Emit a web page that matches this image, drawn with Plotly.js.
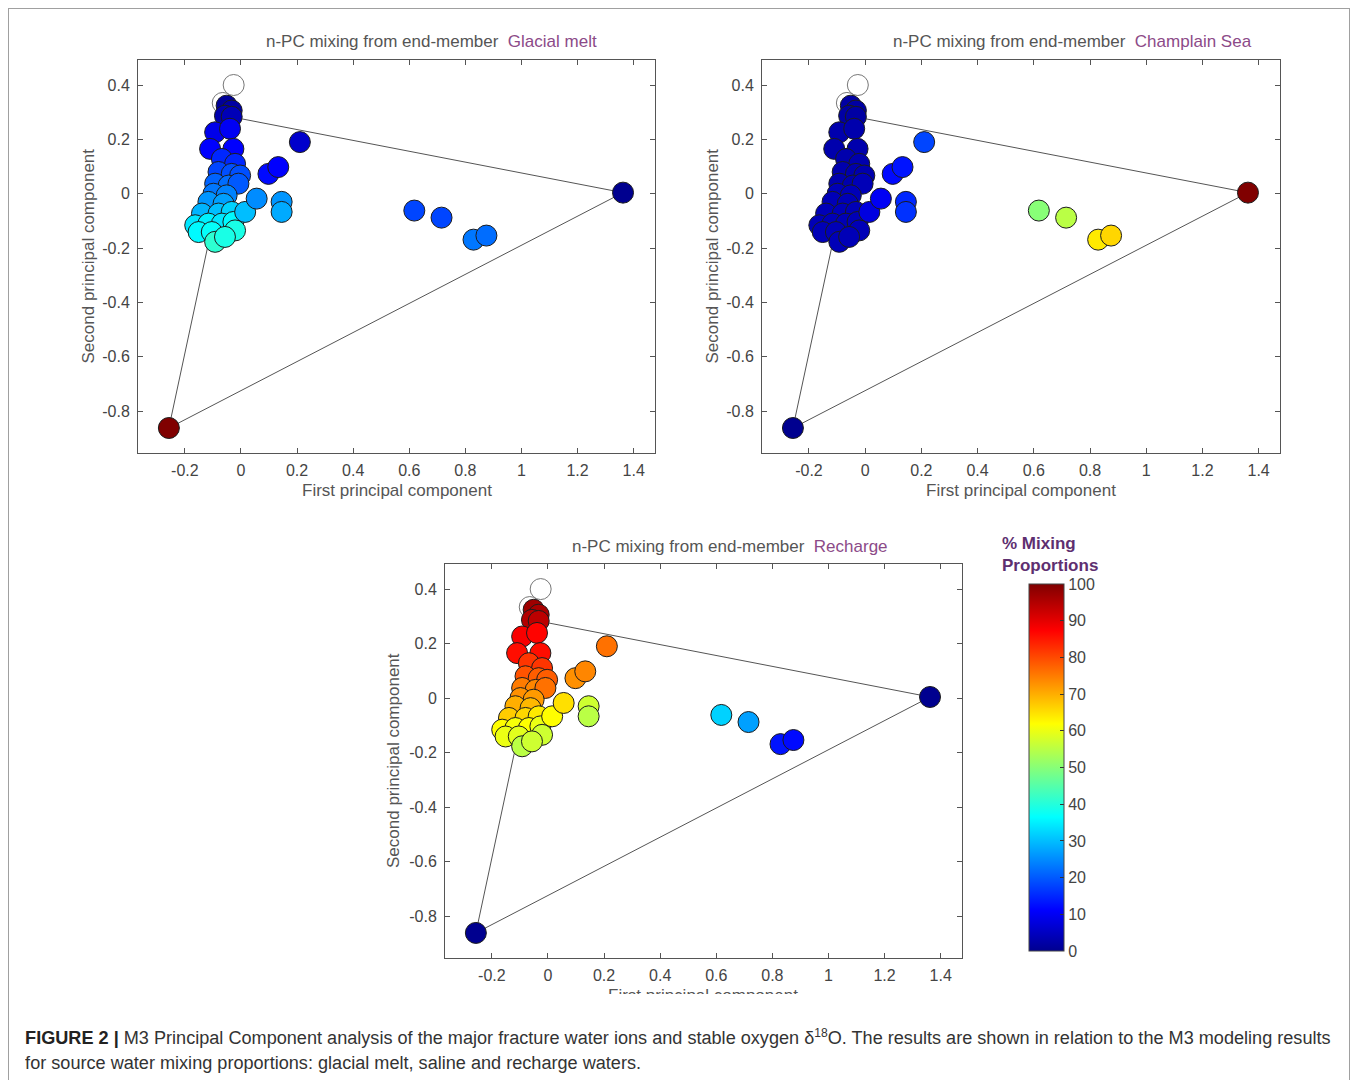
<!DOCTYPE html>
<html>
<head>
<meta charset="utf-8">
<script src="https://cdn.plot.ly/plotly-3.0.1.min.js"></script>
<style>
  body { margin: 0; background: #fff; }
  #wrap { position: relative; width: 1357px; height: 1080px; overflow: hidden; background: #fff; }
  #chart { position: absolute; left: 0; top: 0; width: 1357px; height: 1080px; }
  #frame { position: absolute; left: 8px; top: 8px; width: 1340px; height: 1100px; border: 1px solid #a0a0a0; pointer-events: none; }
  #caption { position: absolute; left: 9px; top: 994px; width: 1340px; height: 90px; background: #fff;
             font-family: 'Liberation Sans', Arial, sans-serif; font-size: 18px; color: #333; }
  #caption p { margin: 0; padding: 27px 0 0 16px; line-height: 25px; white-space: nowrap;
               transform: scaleX(1.006); transform-origin: left top; }
  #caption b { color: #222; }
</style>
</head>
<body>
<div id="wrap">
  <div id="chart"></div>
  <div id="caption"><p><b>FIGURE 2 |</b> M3 Principal Component analysis of the major fracture water ions and stable oxygen δ<sup style="font-size:12px">18</sup>O. The results are shown in relation to the M3 modeling results<br>for source water mixing proportions: glacial melt, saline and recharge waters.</p></div>
  <div id="frame"></div>
</div>
<script>
// ---- data ----
const pcX = [-0.257, 1.362,
  -0.051,-0.033,-0.057,-0.033, -0.092,-0.039,-0.110,-0.027, -0.068,-0.021,-0.080,-0.033,-0.003,
  -0.092,-0.044,-0.009, -0.098,-0.051,-0.116,-0.062, -0.139,-0.080,-0.033, -0.163,-0.116,-0.068,-0.027,
  -0.151,-0.104,-0.021, -0.092,-0.057,
  0.015,0.056,0.098,0.133,0.145,0.145,0.210,
  0.618,0.715,0.829,0.875];
const pcY = [-0.862, 0.004,
  0.324,0.306,0.287,0.283, 0.226,0.239,0.165,0.165, 0.128,0.110,0.080,0.073,0.067,
  0.037,0.030,0.037, 0.000,-0.006,-0.030,-0.037, -0.073,-0.073,-0.067, -0.116,-0.110,-0.110,-0.104,
  -0.141,-0.141,-0.135, -0.177,-0.159,
  -0.067,-0.018,0.073,0.098,-0.030,-0.067,0.190,
  -0.062,-0.088,-0.169,-0.154];
const glacialPct = [100, 0,
  1,2,3,4, 9,10,11,11, 15,15,18,19,19, 21,22,20, 23,24,26,27, 29,30,32, 34,35,34,36, 36,37,39, 41,39,
  30,25,12,11,26,28,6,
  18,18,23,22];
const champlainPct = [0, 100,
  2,2,2,2, 3,3,3,3, 3,3,3,3,3, 3,3,4, 4,4,4,4, 4,4,4, 4,4,4,4, 4,4,4, 4,4,
  8,10,12,13,15,16,18,
  50,55,64,66];
const rechargePct = [0, 0,
  97,96,95,94, 88,87,86,86, 82,82,79,78,78, 75,74,76, 73,72,70,69, 67,66,64, 62,61,62,60, 60,59,57, 55,57,
  62,65,73,74,57,55,76,
  32,27,13,12];
// mixing triangle vertices
const triX = [-0.257, 1.362, -0.02, -0.257];
const triY = [-0.862, 0.004, 0.28, -0.862];
// hollow reference points
const refX = [-0.026, -0.065];
const refY = [0.400, 0.334];
// panel end-member names
const endMembers = ['Glacial melt', 'Champlain Sea', 'Recharge'];
const xTickVals = [-0.2, 0, 0.2, 0.4, 0.6, 0.8, 1, 1.2, 1.4];
const xTickText = ['-0.2', '0', '0.2', '0.4', '0.6', '0.8', '1', '1.2', '1.4'];
const yTickVals = [0.4, 0.2, 0, -0.2, -0.4, -0.6, -0.8];
const yTickText = ['0.4', '0.2', '0', '-0.2', '-0.4', '-0.6', '-0.8'];
const cbVals = [0,10,20,30,40,50,60,70,80,90,100];
const cbText = ['0','10','20','30','40','50','60','70','80','90','100'];

// ---- drawing ----
const W = 1357, H = 1080;
const FONT = 'Liberation Sans, Arial, sans-serif';
const jet = [[0,'rgb(0,0,143)'],[0.111,'rgb(0,0,255)'],[0.365,'rgb(0,255,255)'],
             [0.619,'rgb(255,255,0)'],[0.873,'rgb(255,0,0)'],[1,'rgb(128,0,0)']];
const panels = [
  {ax:'', box:[138,655,60,453], vals:glacialPct, title:[431,42], ytitle:88},
  {ax:'2', box:[762,1280,60,453], vals:champlainPct, title:[1072,42], ytitle:712},
  {ax:'3', box:[445,962,564,958], vals:rechargePct, title:[730,546], ytitle:393}
];
const px = v => v / W, py = v => 1 - v / H;

const traces = [];
const layout = {
  width: W, height: H, margin: {l:0, r:0, t:0, b:0},
  paper_bgcolor: '#fff', plot_bgcolor: '#fff', showlegend: false,
  font: {family: FONT, color: '#444'},
  annotations: []
};
panels.forEach((p, i) => {
  const xa = 'x' + p.ax, ya = 'y' + p.ax;
  traces.push({x: triX, y: triY, xaxis: xa, yaxis: ya, mode: 'lines', type: 'scatter',
               line: {color: '#555', width: 1}, hoverinfo: 'skip'});
  traces.push({x: refX, y: refY, xaxis: xa, yaxis: ya, mode: 'markers', type: 'scatter',
               marker: {size: 21, color: '#fff', line: {color: '#777', width: 1}}});
  const m = {size: 21, color: p.vals, cmin: 0, cmax: 100, colorscale: jet,
             line: {color: '#1c1c1c', width: 1}, opacity: 1};
  if (i === 2) {
    m.showscale = true;
    m.colorbar = {x: px(1029), xanchor: 'left', xpad: 0, y: py(767.5), yanchor: 'middle', ypad: 0,
                  thickness: 35, thicknessmode: 'pixels', len: 367, lenmode: 'pixels',
                  outlinewidth: 1, outlinecolor: '#444', tickvals: cbVals, ticktext: cbText,
                  ticks: 'inside', ticklen: 4, tickcolor: '#333',
                  tickfont: {family: FONT, size: 16, color: '#444'}};
  } else m.showscale = false;
  traces.push({x: pcX, y: pcY, xaxis: xa, yaxis: ya, mode: 'markers', type: 'scatter', marker: m});

  const common = {showline: true, linecolor: '#555', linewidth: 1, mirror: 'ticks', ticks: 'inside',
                  ticklen: 5, tickcolor: '#555', showgrid: false, zeroline: false, fixedrange: true,
                  tickfont: {family: FONT, size: 16, color: '#444'}};
  layout['xaxis' + p.ax] = Object.assign({}, common, {
    domain: [px(p.box[0]), px(p.box[1])], range: [-0.367, 1.476], anchor: ya,
    tickvals: xTickVals, ticktext: xTickText, ticklabelstandoff: 3});
  layout['yaxis' + p.ax] = Object.assign({}, common, {
    domain: [py(p.box[3]), py(p.box[2])], range: [-0.954, 0.492], anchor: xa,
    tickvals: yTickVals, ticktext: yTickText, ticklabelstandoff: 4});

  layout.annotations.push({xref: 'paper', yref: 'paper', x: px(p.title[0]), y: py(p.title[1]),
    xanchor: 'center', yanchor: 'middle', showarrow: false,
    text: 'n-PC mixing from end-member\u00a0\u00a0<span style="color:#8c4a88">' + endMembers[i] + '</span>',
    font: {family: FONT, size: 17, color: '#555'}});
  layout.annotations.push({xref: 'paper', yref: 'paper', x: px((p.box[0] + p.box[1]) / 2),
    y: py(p.box[3] + 37), xanchor: 'center', yanchor: 'middle', showarrow: false,
    text: 'First principal component', font: {family: FONT, size: 17, color: '#555'}});
  layout.annotations.push({xref: 'paper', yref: 'paper', x: px(p.ytitle),
    y: py((p.box[2] + p.box[3]) / 2), xanchor: 'center', yanchor: 'middle', showarrow: false, textangle: -90,
    text: 'Second principal component', font: {family: FONT, size: 17, color: '#555'}});
});
layout.annotations.push({xref: 'paper', yref: 'paper', x: px(1000), y: py(532), xanchor: 'left', yanchor: 'top',
  align: 'left', showarrow: false, text: '<b>% Mixing<br>Proportions</b>',
  font: {family: FONT, size: 17, color: '#5e2f70'}});

Plotly.newPlot('chart', traces, layout, {staticPlot: true, displayModeBar: false});
</script>
</body>
</html>
